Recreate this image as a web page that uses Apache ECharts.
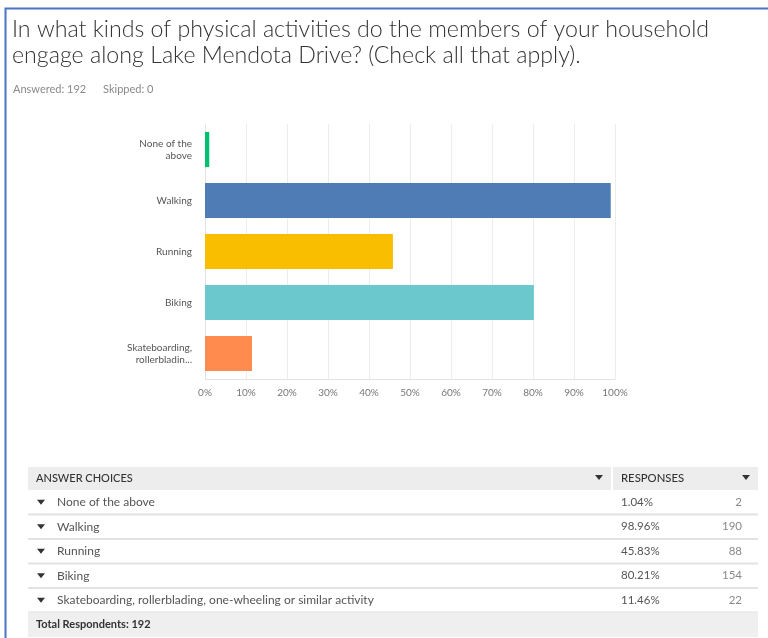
<!DOCTYPE html>
<html><head><meta charset="utf-8">
<script src="https://cdn.jsdelivr.net/npm/echarts@6/dist/echarts.min.js"></script>
<style>html,body{margin:0;padding:0;background:#fff}#c{width:768px;height:638px}</style>
</head><body><div id="c"></div>
<script>
const titleText = 'In what kinds of physical activities do the members of your household\nengage along Lake Mendota Drive? (Check all that apply).';
const answered = 192;
const skipped = 0;
const categories = ['None of the above', 'Walking', 'Running', 'Biking', 'Skateboarding, rollerblading, one-wheeling or similar activity'];
const axisLabels = ['None of the\nabove', 'Walking', 'Running', 'Biking', 'Skateboarding,\nrollerbladin...'];
const percents = [1.04, 98.96, 45.83, 80.21, 11.46];
const counts = [2, 190, 88, 154, 22];
const barColors = ['#00BF6F', '#507CB6', '#F9BE00', '#6BC8CD', '#FF8B4F'];
const totalRespondents = 192;

const FONT = 'Lato';
const chart = echarts.init(document.getElementById('c'), null, {renderer: 'canvas'});

// table layout
const T = {left: 28, right: 758, top: 467, headH: 23, rowH: 24.5, split: 612};
const g = [];
// frame
g.push({type: 'rect', shape: {x: 5.5, y: 8.5, width: 800, height: 700}, style: {fill: null, stroke: '#4a74c4', lineWidth: 2}, z: 10});
g.push({type: 'text', left: 12, top: 17, style: {text: titleText, font: '300 23.2px ' + FONT, fill: '#333', lineHeight: 26}});
g.push({type: 'text', left: 13, top: 84, style: {text: 'Answered: ' + answered + '      Skipped: ' + skipped, font: '11px ' + FONT, fill: '#8a8a8a'}});
// header
g.push({type: 'rect', shape: {x: T.left, y: T.top, width: T.right - T.left, height: T.headH}, style: {fill: '#ededed'}});
g.push({type: 'rect', shape: {x: T.split - 1, y: T.top, width: 2, height: T.headH}, style: {fill: '#fff'}});
g.push({type: 'text', x: 36, y: T.top + T.headH / 2, style: {text: 'ANSWER CHOICES', font: '500 11px ' + FONT, fill: '#333', verticalAlign: 'middle'}});
g.push({type: 'text', x: 621, y: T.top + T.headH / 2, style: {text: 'RESPONSES', font: '500 11.3px ' + FONT, fill: '#333', verticalAlign: 'middle'}});
function tri(cx, cy) {
  return {type: 'polygon', shape: {points: [[cx - 4, cy - 2.5], [cx + 4, cy - 2.5], [cx, cy + 2.5]]}, style: {fill: '#333'}};
}
g.push(tri(599, T.top + T.headH / 2 - 1));
g.push(tri(746, T.top + T.headH / 2 - 1));
categories.forEach((c, i) => {
  const y0 = T.top + T.headH + i * T.rowH;
  const cy = y0 + T.rowH / 2;
  g.push(tri(41, cy));
  g.push({type: 'text', x: 57, y: cy, style: {text: c, font: '12px ' + FONT, fill: '#555', verticalAlign: 'middle'}});
  g.push({type: 'text', x: 621, y: cy, style: {text: percents[i].toFixed(2) + '%', font: '11.5px ' + FONT, fill: '#555', verticalAlign: 'middle'}});
  g.push({type: 'text', x: 742, y: cy, style: {text: String(counts[i]), font: '11.5px ' + FONT, fill: '#888', align: 'right', verticalAlign: 'middle'}});
  g.push({type: 'rect', shape: {x: T.left, y: y0 + T.rowH - 1, width: T.right - T.left, height: 2}, style: {fill: '#e2e2e2'}});
});
const yTot = T.top + T.headH + categories.length * T.rowH;
g.push({type: 'rect', shape: {x: T.left, y: yTot, width: T.right - T.left, height: 638 - yTot - 1}, style: {fill: '#efefef'}});
g.push({type: 'text', x: 36, y: yTot + 11.5, style: {text: 'Total Respondents: ' + totalRespondents, font: 'bold 11px ' + FONT, fill: '#333', verticalAlign: 'middle'}});

chart.setOption({
  animation: false,
  backgroundColor: '#fff',
  grid: {left: 205, right: 153, top: 124, bottom: 259},
  xAxis: {
    type: 'value', min: 0, max: 100, interval: 10,
    axisLine: {show: true, lineStyle: {color: '#e3e3e3'}},
    axisTick: {show: false},
    splitLine: {show: true, lineStyle: {color: '#ececec'}},
    axisLabel: {formatter: '{value}%', color: '#777', fontSize: 10, fontFamily: FONT, margin: 9}
  },
  yAxis: {
    type: 'category', inverse: true, data: axisLabels,
    axisLine: {show: true, lineStyle: {color: '#e3e3e3'}},
    axisTick: {show: false},
    axisLabel: {color: '#555', fontSize: 10, fontFamily: FONT, margin: 13, lineHeight: 12, align: 'right'}
  },
  series: [{
    type: 'bar', barCategoryGap: '31%',
    data: percents.map((v, i) => ({value: v, itemStyle: {color: barColors[i]}}))
  }],
  graphic: g
});
</script></body></html>
